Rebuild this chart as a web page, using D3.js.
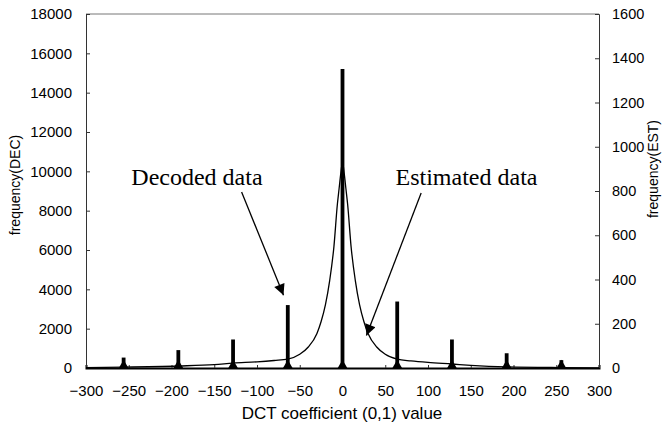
<!DOCTYPE html>
<html>
<head>
<meta charset="utf-8">
<script src="https://cdnjs.cloudflare.com/ajax/libs/d3/7.8.5/d3.min.js"></script>
<style>
  body { margin: 0; background: #fff; }
  text { font-family: 'Liberation Sans', Arial, sans-serif; fill: #000; }
</style>
</head>
<body>
<svg id="chart" width="668" height="428"></svg>
<script>
// decoded data (left axis) - spikes at multiples of 64
var decodedX = [-256, -192, -128, -64, 0, 64, 128, 192, 256];
var decodedY = [530, 910, 1450, 3200, 15200, 3380, 1450, 750, 400];

// estimated data (right axis)
var estX = [-300, -256, -192, -150, -128, -100, -80, -64, -50, -40, -30, -25, -20, -15, -10, -6, -4, -2, 0,
            2, 4, 6, 10, 15, 20, 25, 30, 40, 50, 64, 80, 100, 128, 150, 192, 256, 300];
var estY = [2, 4, 9, 15, 22, 28, 34, 40, 62, 95, 155, 210, 285, 395, 550, 740, 810, 880, 930,
            880, 810, 740, 550, 395, 285, 210, 155, 95, 62, 40, 32, 25, 18, 12, 5, 2, 1];

var xTicks = [-300, -250, -200, -150, -100, -50, 0, 50, 100, 150, 200, 250, 300];
var yLeftTicks = [0, 2000, 4000, 6000, 8000, 10000, 12000, 14000, 16000, 18000];
var yRightTicks = [0, 200, 400, 600, 800, 1000, 1200, 1400, 1600];

var svg = d3.select("#chart");
var plotL = 86, plotR = 599, plotT = 14, plotB = 368;

var x = d3.scaleLinear().domain([-300, 300]).range([plotL, plotR]);
var yL = d3.scaleLinear().domain([0, 18000]).range([plotB, plotT]);
var yR = d3.scaleLinear().domain([0, 1600]).range([plotB, plotT]);

// frame top
svg.append("line").attr("x1", plotL).attr("x2", plotR).attr("y1", plotT).attr("y2", plotT)
  .attr("stroke", "#777").attr("stroke-width", 1);

// left axis
var gL = svg.append("g").attr("transform", "translate(" + plotL + ",0)")
  .call(d3.axisLeft(yL).tickValues(yLeftTicks).tickSize(-4).tickPadding(14).tickFormat(d3.format("d")));
// right axis
var gR = svg.append("g").attr("transform", "translate(" + plotR + ",0)")
  .call(d3.axisRight(yR).tickValues(yRightTicks).tickSize(-4).tickPadding(13).tickFormat(d3.format("d")));
// bottom axis
var gB = svg.append("g").attr("transform", "translate(0," + plotB + ")")
  .call(d3.axisBottom(x).tickValues(xTicks).tickSize(-3).tickPadding(20));

[gL, gR, gB].forEach(function (g) {
  g.select(".domain").attr("stroke", "#333");
  g.selectAll(".tick line").attr("stroke", "#333");
  g.selectAll("text").style("font-size", "15px").attr("fill", "#000")
    .style("font-family", "'Liberation Sans', Arial, sans-serif");
});
gR.selectAll("text").style("font-size", "14.5px");
gB.select(".domain").attr("stroke", "#000").attr("stroke-width", 2);
gB.selectAll(".tick text").attr("dy", "0.5em");

// estimated curve
var line = d3.line()
  .x(function (d, i) { return x(estX[i]); })
  .y(function (d) { return yR(d); })
  .curve(d3.curveMonotoneX);
svg.append("path").datum(estY).attr("d", line)
  .attr("fill", "none").attr("stroke", "#000").attr("stroke-width", 1.3);

// decoded spikes
svg.append("g").selectAll("line").data(decodedY).enter().append("line")
  .attr("x1", function (d, i) { return x(decodedX[i]); })
  .attr("x2", function (d, i) { return x(decodedX[i]); })
  .attr("y1", yL(0))
  .attr("y2", function (d) { return yL(d); })
  .attr("stroke", "#000").attr("stroke-width", 3.8);

// markers at spike bases
svg.append("g").selectAll("path").data(decodedX).enter().append("path")
  .attr("d", d3.symbol().type(d3.symbolTriangle).size(42))
  .attr("transform", function (d) { return "translate(" + x(d) + "," + (yL(0) - 2.5) + ")"; })
  .attr("fill", "#000");

// axis titles
svg.append("text").attr("transform", "translate(20,185) rotate(-90)")
  .attr("text-anchor", "middle").style("font-size", "14px").text("frequency(DEC)");
svg.append("text").attr("transform", "translate(658,169) rotate(-90)")
  .attr("text-anchor", "middle").style("font-size", "14px").text("frequency(EST)");
svg.append("text").attr("x", 342).attr("y", 419)
  .attr("text-anchor", "middle").style("font-size", "17px").text("DCT coefficient (0,1) value");

// annotations
var defs = svg.append("defs");
defs.append("marker").attr("id", "arrow").attr("viewBox", "0 0 10 10")
  .attr("refX", 10).attr("refY", 5).attr("markerWidth", 14).attr("markerHeight", 11)
  .attr("markerUnits", "userSpaceOnUse").attr("orient", "auto")
  .append("path").attr("d", "M0,0L10,5L0,10Z").attr("fill", "#000");

var notes = [
  { text: "Decoded data", tx: -247, ty: 9300, x1: -118, y1: 8950, x2: -69, y2: 3700 },
  { text: "Estimated data", tx: 62, ty: 9300, x1: 92, y1: 8900, x2: 28, y2: 1650 }
];
notes.forEach(function (n) {
  svg.append("text").attr("x", x(n.tx)).attr("y", yL(n.ty))
    .style("font-family", "'Liberation Serif', 'Times New Roman', serif")
    .style("font-size", "24px").text(n.text);
  svg.append("line").attr("x1", x(n.x1)).attr("y1", yL(n.y1))
    .attr("x2", x(n.x2)).attr("y2", yL(n.y2))
    .attr("stroke", "#000").attr("stroke-width", 1.3).attr("marker-end", "url(#arrow)");
});
</script>
</body>
</html>
